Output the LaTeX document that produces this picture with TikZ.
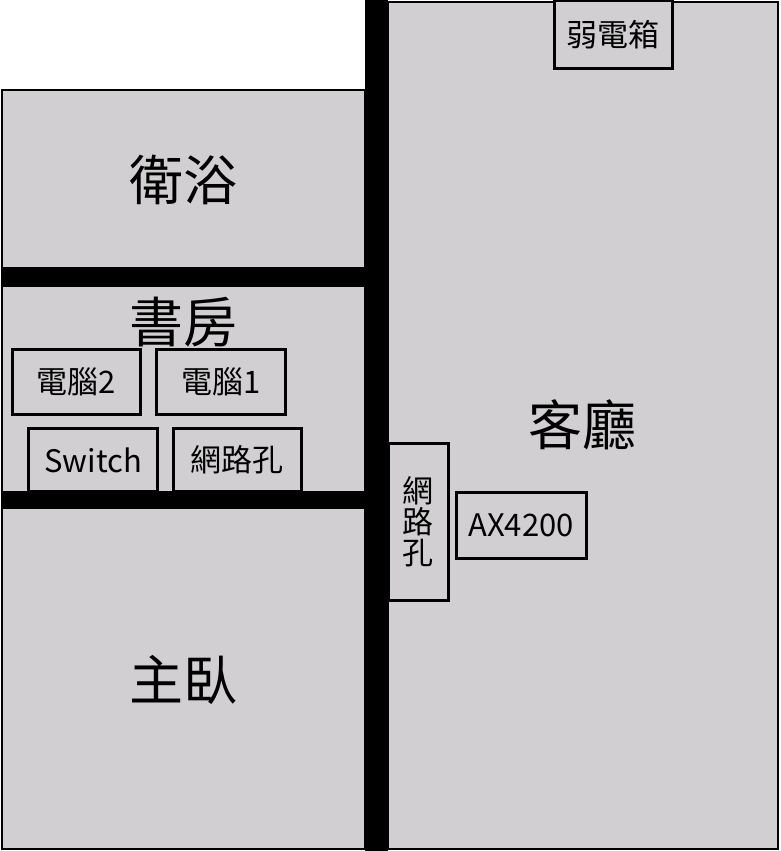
\documentclass[tikz,border=0pt]{standalone}
\usepackage{fontspec}
\setmainfont{Noto Sans CJK TC}
\begin{document}
\begin{tikzpicture}[x=1pt,y=-1pt,
  room/.style={fill=roomgray,draw=black,line width=2pt},
  box/.style={draw=black,line width=3pt,fill=roomgray,inner sep=0pt,font=\fontsize{31}{31}\selectfont},
  big/.style={font=\fontsize{54}{54}\selectfont}]
\definecolor{roomgray}{RGB}{209,207,209}
\useasboundingbox (0,0) rectangle (780,851);
\fill[white] (0,0) rectangle (780,851);
\draw[room] (2,90) rectangle (365,849);
\draw[room] (388,2) rectangle (778,849);
\fill[black] (365,0) rectangle (388,851);
\fill[black] (2,267) rectangle (365,287);
\fill[black] (2,491) rectangle (365,509);
\node[big] (wy) at (183,180) {衛浴};
\node[big] (sf) at (183,322) {書房};
\node[big] (zw) at (183,680) {主臥};
\node[big] (kt) at (582,425) {客廳};
\node[box,minimum width=118,minimum height=68] (rd) at (613,35) {弱電箱};
\node[box,minimum width=128,minimum height=65] (pc2) at (76,382) {電腦2};
\node[box,minimum width=129,minimum height=65] (pc1) at (221,382) {電腦1};
\node[box,minimum width=129,minimum height=63] (sw) at (93,460) {Switch};
\node[box,minimum width=128,minimum height=63] (n1) at (237,460) {網路孔};
\node[box,minimum width=60,minimum height=157,align=center] (n2) at (418,522) {網\\路\\孔};
\node[box,minimum width=130,minimum height=66] (ax) at (521,525) {AX4200};
\end{tikzpicture}
\end{document}
